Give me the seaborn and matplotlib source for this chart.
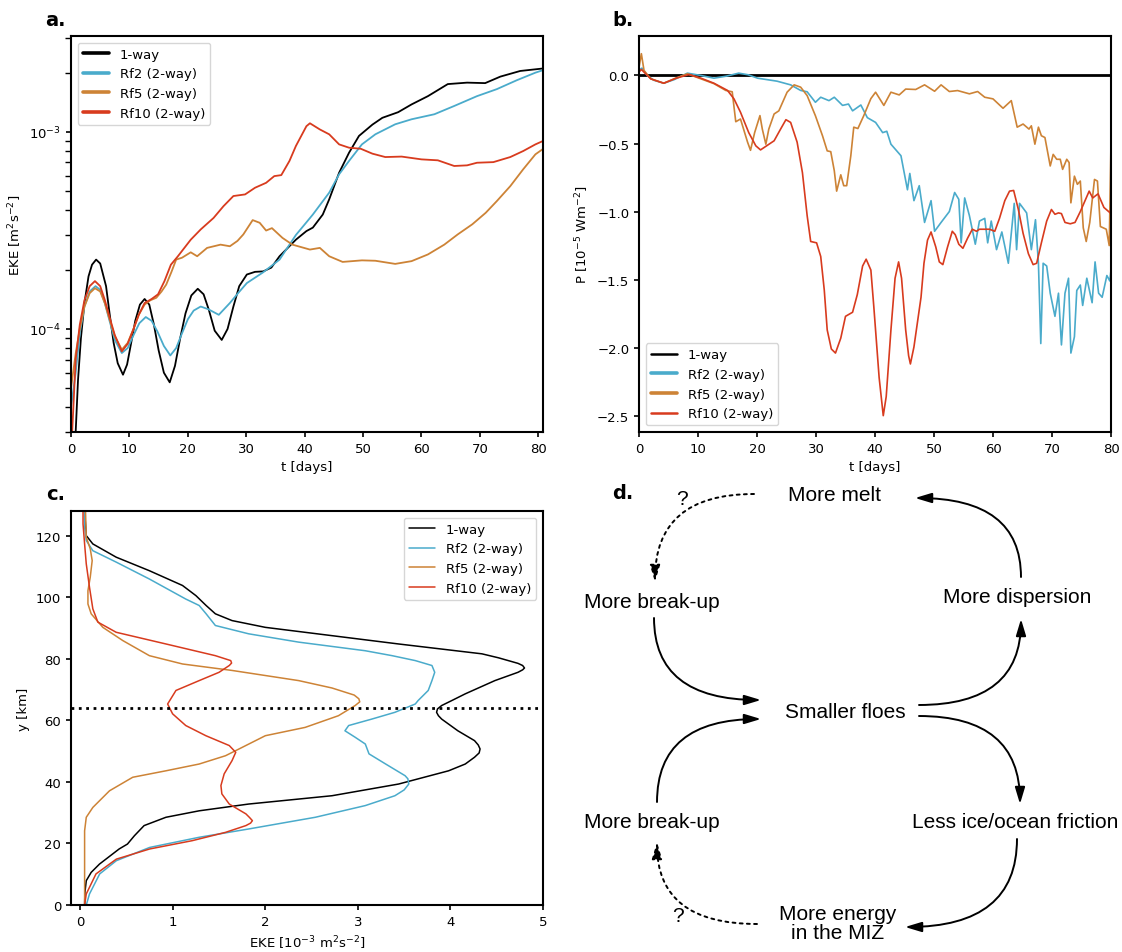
import matplotlib
matplotlib.use("Agg")
import matplotlib.pyplot as plt
import seaborn as sns

# run names and colours
labels = ["1-way", "Rf2 (2-way)", "Rf5 (2-way)", "Rf10 (2-way)"]
colors = ["black", "#4aabcb", "#cd8336", "#d83b1e"]

# ---- a. domain EKE against time, in 1e-4 m2 s-2
t_a_1way = [0.5, 0.8, 1.2, 1.7, 2.3, 3.0, 3.6, 4.3, 5.0, 6.0, 6.6, 7.3, 8.0, 8.9, 9.6, 10.3, 11.0,
            11.8, 12.6, 13.4, 14.2, 15.0, 15.9, 16.9, 17.8, 18.7, 19.6, 20.6, 21.7, 22.7, 23.6,
            24.6, 25.8, 26.8, 27.8, 28.8, 30.1, 31.5, 32.9, 34.3, 35.7, 38.5, 40.3, 41.4, 43.1,
            44.2, 45.9, 47.6, 49.3, 51.6, 53.3, 56.0, 58.3, 61.1, 64.5, 67.8, 70.9, 73.5, 76.9,
            79.5, 80.8]
eke_a_1way = [0.1, 0.3, 0.55, 0.9, 1.35, 1.85, 2.12, 2.25, 2.15, 1.65, 1.2, 0.85, 0.67, 0.586,
              0.66, 0.85, 1.1, 1.33, 1.42, 1.33, 1.05, 0.78, 0.6, 0.536, 0.65, 0.9, 1.2, 1.48,
              1.6, 1.5, 1.25, 0.98, 0.88, 1.0, 1.3, 1.65, 1.89, 1.95, 1.96, 2.05, 2.34, 2.84,
              3.14, 3.27, 3.81, 4.55, 6.21, 7.85, 9.55, 10.9, 11.8, 12.6, 13.8, 15.2, 17.5,
              17.8, 17.7, 19.1, 20.4, 20.8, 21.0]
t_a_rf2 = [0.0, 0.8, 1.5, 2.3, 3.2, 4.2, 5.0, 5.8, 6.6, 7.5, 8.7, 9.7, 10.7, 11.7, 12.8, 13.8,
           14.8, 15.9, 17.0, 18.0, 19.0, 20.0, 21.0, 22.2, 23.5, 25.3, 27.2, 28.6, 30.1, 32.9,
           35.7, 38.5, 40.2, 41.4, 44.2, 45.9, 47.6, 49.8, 52.1, 55.5, 58.3, 62.2, 65.6, 69.5,
           72.9, 76.3, 79.5, 80.8]
eke_a_rf2 = [0.4, 0.6, 0.95, 1.3, 1.55, 1.65, 1.58, 1.35, 1.1, 0.88, 0.755, 0.8, 0.93, 1.07,
             1.15, 1.1, 0.97, 0.82, 0.734, 0.8, 0.95, 1.12, 1.24, 1.30, 1.26, 1.18, 1.355, 1.52,
             1.71, 1.94, 2.25, 3.0, 3.45, 3.81, 4.92, 6.1, 7.13, 8.65, 9.73, 10.94, 11.6, 12.3,
             13.55, 15.2, 16.5, 18.3, 20.0, 20.6]
t_a_rf5 = [0.0, 0.8, 1.5, 2.3, 3.2, 4.1, 5.0, 5.8, 6.6, 7.5, 8.7, 9.7, 10.7, 11.6, 12.6, 13.6,
           14.6, 15.5, 16.3, 17.2, 18.0, 19.0, 20.5, 21.6, 23.3, 25.6, 27.2, 28.5, 29.5, 31.1,
           32.3, 33.4, 34.4, 36.2, 37.9, 40.9, 42.6, 44.2, 46.5, 49.8, 52.1, 55.5, 58.3, 61.1,
           63.9, 66.2, 68.7, 71.0, 72.9, 75.2, 77.4, 79.5, 80.8]
eke_a_rf5 = [0.5, 0.75, 1.0, 1.3, 1.52, 1.61, 1.55, 1.35, 1.12, 0.92, 0.785, 0.85, 1.0, 1.18,
             1.33, 1.4, 1.44, 1.55, 1.68, 1.95, 2.25, 2.3, 2.45, 2.34, 2.58, 2.68, 2.63, 2.8,
             3.02, 3.57, 3.46, 3.16, 3.25, 2.9, 2.68, 2.53, 2.58, 2.34, 2.19, 2.23, 2.22, 2.14,
             2.21, 2.39, 2.68, 3.02, 3.4, 3.89, 4.46, 5.31, 6.46, 7.7, 8.2]
t_a_rf10 = [0.2, 0.8, 1.5, 2.3, 3.2, 4.1, 5.0, 5.8, 6.6, 7.5, 8.7, 9.7, 10.7, 11.6, 12.6, 13.8,
            14.9, 16.0, 17.1, 18.3, 20.5, 22.2, 24.4, 26.1, 27.8, 29.8, 31.5, 33.4, 34.8, 36.0,
            37.4, 38.5, 40.3, 40.9, 42.6, 44.2, 45.9, 47.6, 49.6, 51.6, 53.8, 56.6, 60.0, 62.8,
            65.6, 67.8, 69.5, 72.3, 75.2, 77.4, 79.5, 80.8]
eke_a_rf10 = [0.3, 0.7, 1.05, 1.4, 1.65, 1.75, 1.65, 1.4, 1.15, 0.93, 0.77, 0.84, 1.0, 1.18,
              1.355, 1.42, 1.5, 1.75, 2.12, 2.34, 2.84, 3.2, 3.66, 4.2, 4.73, 4.82, 5.21, 5.52,
              5.97, 6.04, 7.13, 8.49, 10.7, 11.07, 10.3, 9.73, 8.65, 8.32, 8.22, 7.76, 7.46,
              7.5, 7.26, 7.18, 6.72, 6.77, 6.98, 7.03, 7.46, 8.0, 8.65, 9.0]

# ---- b. power P against time, in 1e-5 W m-2
t_b_1way = [0.0, 80.0]
p_1way = [0.0, 0.0]
t_b_rf2 = [0.0, 0.5, 1.4, 2.5, 4.2, 6.0, 8.2, 10.5, 12.7, 14.8, 16.9, 18.5, 20.1, 23.4, 25.7,
           27.4, 28.5, 29.9, 30.8, 32.2, 33.1, 34.5, 35.5, 36.2, 37.6, 38.7, 40.1, 41.3, 42.0,
           42.7, 44.4, 45.5, 45.9, 46.6, 47.5, 48.4, 49.5, 50.1, 51.2, 52.6, 53.5, 54.2, 54.6,
           55.2, 56.0, 57.0, 57.7, 58.6, 59.1, 59.7, 60.6, 61.5, 62.6, 63.6, 64.0, 64.5, 65.7,
           66.5, 67.2, 67.7, 68.1, 68.5, 69.1, 69.7, 70.5, 71.1, 71.6, 72.2, 72.8, 73.2, 73.8,
           74.2, 74.8, 75.2, 75.9, 76.8, 77.3, 77.9, 78.5, 79.3, 79.8, 80.0]
p_rf2 = [0.04, 0.054, 0.0, -0.035, -0.057, -0.03, 0.017, 0.0, -0.02, -0.005, 0.017, 0.005,
         -0.02, -0.042, -0.069, -0.11, -0.12, -0.197, -0.16, -0.185, -0.16, -0.22, -0.21, -0.26,
         -0.217, -0.31, -0.345, -0.42, -0.41, -0.505, -0.59, -0.84, -0.72, -0.92, -0.81, -1.08,
         -0.92, -1.145, -1.08, -1.0, -0.86, -0.91, -1.23, -0.90, -1.03, -1.24, -1.07, -1.05,
         -1.23, -1.07, -1.28, -1.15, -1.38, -0.94, -1.28, -0.94, -1.01, -1.28, -1.06, -1.38,
         -1.97, -1.38, -1.40, -1.60, -1.77, -1.60, -1.98, -1.6, -1.49, -2.04, -1.92, -1.58,
         -1.54, -1.69, -1.49, -1.67, -1.37, -1.60, -1.63, -1.47, -1.51, -1.43]
t_b_rf5 = [0.0, 0.4, 0.85, 2.0, 4.2, 6.2, 8.2, 10.5, 12.7, 14.7, 15.8, 16.4, 17.2, 18.4, 18.9,
           19.6, 20.5, 20.9, 21.5, 22.0, 22.9, 23.7, 25.1, 26.3, 27.4, 28.5, 29.9, 31.1, 31.9,
           32.5, 33.1, 33.5, 34.2, 34.7, 35.2, 35.9, 36.4, 37.1, 38.1, 39.3, 40.1, 41.5, 42.7,
           44.1, 45.2, 46.9, 48.4, 50.1, 51.2, 52.6, 54.0, 56.0, 57.4, 58.6, 60.0, 61.7, 63.1,
           64.1, 65.1, 66.1, 66.5, 67.1, 67.7, 68.2, 68.8, 69.7, 70.2, 70.8, 71.4, 71.8, 72.5,
           72.9, 73.2, 73.8, 74.3, 74.8, 75.3, 75.8, 76.4, 77.2, 77.7, 78.2, 79.2, 79.7, 80.0]
p_rf5 = [0.06, 0.16, 0.037, -0.025, -0.057, -0.02, 0.012, -0.025, -0.06, -0.11, -0.12, -0.34,
         -0.32, -0.49, -0.55, -0.42, -0.295, -0.394, -0.505, -0.394, -0.283, -0.26, -0.123,
         -0.069, -0.086, -0.148, -0.296, -0.443, -0.554, -0.56, -0.70, -0.85, -0.73, -0.81,
         -0.81, -0.59, -0.38, -0.39, -0.295, -0.17, -0.123, -0.22, -0.123, -0.143, -0.10,
         -0.103, -0.069, -0.116, -0.069, -0.118, -0.111, -0.135, -0.118, -0.16, -0.172, -0.241,
         -0.185, -0.38, -0.357, -0.394, -0.37, -0.505, -0.38, -0.443, -0.456, -0.665, -0.58,
         -0.616, -0.616, -0.69, -0.616, -0.64, -0.936, -0.74, -0.80, -0.776, -1.12, -1.22,
         -1.08, -0.764, -0.776, -1.11, -1.13, -1.25, -0.49]
t_b_rf10 = [0.0, 0.4, 2.0, 4.2, 6.3, 8.5, 10.5, 12.7, 15.0, 16.1, 17.2, 18.6, 19.8, 20.6, 21.8,
            22.9, 24.0, 24.9, 25.7, 26.8, 27.7, 28.5, 29.1, 30.1, 30.8, 31.4, 31.9, 32.6, 33.3,
            34.2, 35.0, 36.2, 37.0, 37.9, 38.5, 39.3, 39.8, 40.7, 41.4, 41.9, 42.7, 43.4, 44.0,
            44.5, 45.2, 45.7, 46.0, 46.6, 47.8, 48.3, 48.9, 49.5, 50.3, 50.9, 51.5, 52.3, 53.1,
            53.6, 54.2, 54.9, 55.7, 56.5, 57.2, 57.7, 58.6, 59.4, 60.3, 61.1, 62.0, 62.8, 63.5,
            64.3, 65.1, 66.0, 66.8, 67.4, 68.2, 69.1, 69.9, 70.5, 71.1, 71.6, 72.2, 73.1, 73.9,
            74.8, 75.6, 76.3, 76.9, 77.8, 78.8, 80.0]
p_rf10 = [0.025, 0.044, -0.025, -0.057, -0.02, 0.007, -0.02, -0.057, -0.11, -0.172, -0.27,
          -0.42, -0.517, -0.547, -0.512, -0.48, -0.394, -0.325, -0.345, -0.49, -0.714, -1.03,
          -1.22, -1.23, -1.33, -1.576, -1.87, -2.01, -2.04, -1.93, -1.77, -1.74, -1.61, -1.40,
          -1.35, -1.43, -1.70, -2.22, -2.50, -2.36, -1.87, -1.49, -1.37, -1.49, -1.87, -2.06,
          -2.12, -1.995, -1.63, -1.38, -1.21, -1.15, -1.26, -1.37, -1.39, -1.26, -1.145, -1.17,
          -1.24, -1.27, -1.195, -1.13, -1.145, -1.13, -1.13, -1.13, -1.145, -1.05, -0.92, -0.85,
          -0.845, -0.985, -1.16, -1.31, -1.39, -1.38, -1.23, -1.07, -0.985, -1.02, -1.01, -1.015,
          -1.08, -1.09, -1.08, -1.0, -0.92, -0.85, -0.90, -0.87, -0.97, -1.015]

# ---- c. time-mean EKE profiles across the channel, in 1e-3 m2 s-2
y_c_1way = [0, 4, 7.9, 10.6, 13.3, 18.2, 19.8, 22.5, 25.8, 28.5, 30.6, 32.8, 35.5, 39.3, 43.6,
            45.8, 48.0, 49.4, 50.7, 52.0, 53.4, 56.6, 60.4, 61.5, 62.6, 63.7, 64.8, 66.5, 68.6,
            72.9, 75.6, 76.4, 77.0, 77.8, 78.5, 80.3, 81.6, 84.8, 87.5, 90.2, 92.4, 94.6, 97.3,
            100.5, 103.8, 108.6, 113.0, 117.3, 120, 128]
eke_c_1way = [0.047, 0.05, 0.065, 0.118, 0.208, 0.42, 0.51, 0.585, 0.69, 0.926, 1.285, 1.82,
              2.72, 3.44, 3.98, 4.16, 4.26, 4.31, 4.32, 4.3, 4.26, 4.08, 3.905, 3.87, 3.85,
              3.86, 3.905, 4.02, 4.16, 4.48, 4.73, 4.78, 4.80, 4.78, 4.73, 4.52, 4.34, 3.44,
              2.72, 2.0, 1.64, 1.46, 1.36, 1.25, 1.105, 0.747, 0.388, 0.136, 0.065, 0.047]
y_c_rf2 = [0, 3.6, 10.1, 14.4, 18.7, 22.0, 24.7, 28.5, 32.3, 35.5, 37.4, 39.3, 41.0, 42.0, 45.8,
           49.1, 52.3, 54.5, 56.6, 58.3, 60.4, 62.6, 65.3, 66.4, 69.7, 72.9, 75.6, 77.8, 79.4,
           81.0, 82.6, 85.4, 88.1, 90.8, 94.6, 97.3, 99.4, 105.9, 111.4, 115.1, 118.4, 122.7,
           128]
eke_c_rf2 = [0.065, 0.10, 0.21, 0.39, 0.75, 1.285, 1.82, 2.54, 3.08, 3.40, 3.50, 3.55, 3.54,
             3.51, 3.30, 3.12, 3.08, 2.97, 2.86, 2.90, 3.15, 3.40, 3.62, 3.65, 3.76, 3.80, 3.83,
             3.80, 3.62, 3.37, 3.08, 2.36, 1.82, 1.46, 1.36, 1.285, 1.14, 0.747, 0.388, 0.136,
             0.065, 0.047, 0.047]
y_c_rf5 = [0, 24.1, 28.5, 31.7, 37.1, 41.5, 43.6, 45.8, 48.5, 50.7, 55.0, 57.7, 61.5, 64.8,
           66.0, 67.0, 68.2, 70.5, 72.9, 76.2, 78.3, 81.0, 85.9, 90.2, 94.6, 97.8, 102.1, 106.5,
           111.9, 115.7, 119.5, 128]
eke_c_rf5 = [0.047, 0.047, 0.065, 0.136, 0.316, 0.567, 0.926, 1.285, 1.57, 1.716, 2.0, 2.43,
             2.79, 2.97, 3.02, 3.01, 2.96, 2.72, 2.36, 1.64, 1.105, 0.747, 0.46, 0.244, 0.118,
             0.083, 0.083, 0.108, 0.129, 0.108, 0.065, 0.057]
y_c_rf10 = [0, 3.6, 10.1, 14.9, 18.2, 20.9, 23.6, 25.8, 26.6, 27.4, 28.4, 29.6, 32.8, 36.1,
            38.8, 42.6, 46.9, 49.6, 51.8, 55.0, 58.3, 62.1, 65.3, 69.7, 72.9, 75.6, 77.8, 78.6,
            79.4, 81.0, 84.8, 88.6, 91.9, 96.2, 103.2, 110.8, 117.3, 123.8, 128]
eke_c_rf10 = [0.047, 0.065, 0.17, 0.39, 0.75, 1.21, 1.57, 1.79, 1.84, 1.86, 1.83, 1.79, 1.61,
              1.53, 1.52, 1.555, 1.64, 1.68, 1.61, 1.357, 1.14, 0.998, 0.944, 1.034, 1.285,
              1.50, 1.61, 1.635, 1.626, 1.46, 0.926, 0.388, 0.19, 0.136, 0.10, 0.065, 0.047,
              0.03, 0.03]
miz_edge = 64

# ---- d. feedback diagram
d_nodes = ["More melt", "More break-up", "More dispersion", "Smaller floes", "More break-up",
           "Less ice/ocean friction", "More energy\nin the MIZ"]

sns.set_theme(style="ticks", rc={
    "axes.edgecolor": "black", "axes.linewidth": 1.5, "text.color": "black",
    "axes.labelcolor": "black", "xtick.color": "black", "ytick.color": "black",
    "xtick.major.width": 1.2, "ytick.major.width": 1.2, "xtick.major.size": 3.5,
    "ytick.major.size": 3.5, "font.size": 9.5, "axes.labelsize": 9.5,
    "xtick.labelsize": 9.5, "ytick.labelsize": 9.5, "legend.fontsize": 9.5,
})
plt.rcParams["font.family"] = ["DejaVu Sans"]

W, H = 1122, 953
fig = plt.figure(figsize=(W / 100, H / 100), dpi=100)

def box(x0, y0, x1, y1):
    return [x0 / W, 1 - y1 / H, (x1 - x0) / W, (y1 - y0) / H]

# a.
ax = fig.add_axes(box(71, 37, 543, 433))
series_a = [(t_a_1way, eke_a_1way), (t_a_rf2, eke_a_rf2), (t_a_rf5, eke_a_rf5), (t_a_rf10, eke_a_rf10)]
for (t, e), lab, c in zip(series_a, labels, colors):
    sns.lineplot(x=t, y=[v * 1e-4 for v in e], ax=ax, color=c, lw=1.3, label=lab,
                 sort=False, estimator=None)
ax.set_yscale("log")
ax.set_ylim(3e-5, 3.07e-3)
ax.set_xlim(0, 80.8)
ax.set_xticks(range(0, 81, 10))
ax.set_xlabel("t [days]")
ax.set_ylabel("EKE [m$^2$s$^{-2}$]")
leg = ax.legend(loc="upper left")
for ln in leg.get_lines():
    ln.set_linewidth(2.6)

# b.
ax = fig.add_axes(box(639, 37, 1111, 433))
sns.lineplot(x=t_b_1way, y=p_1way, ax=ax, color=colors[0], lw=2.0, label=labels[0],
             sort=False, estimator=None)
series_b = [(t_b_rf2, p_rf2), (t_b_rf5, p_rf5), (t_b_rf10, p_rf10)]
for (t, p), lab, c in zip(series_b, labels[1:], colors[1:]):
    sns.lineplot(x=t, y=p, ax=ax, color=c, lw=1.2, label=lab, sort=False, estimator=None)
ax.set_xlim(0, 80)
ax.set_ylim(-2.62, 0.29)
ax.set_xticks(range(0, 81, 10))
ax.set_yticks([0.0, -0.5, -1.0, -1.5, -2.0, -2.5])
ax.set_xlabel("t [days]")
ax.set_ylabel("P [10$^{-5}$ Wm$^{-2}$]")
leg = ax.legend(loc="lower left")
for ln, w in zip(leg.get_lines(), [1.8, 2.6, 2.6, 1.8]):
    ln.set_linewidth(w)

# c.
ax = fig.add_axes(box(71, 512, 543, 906))
series_c = [(eke_c_1way, y_c_1way), (eke_c_rf2, y_c_rf2), (eke_c_rf5, y_c_rf5), (eke_c_rf10, y_c_rf10)]
for (e, y), lab, c in zip(series_c, labels, colors):
    sns.lineplot(x=e, y=y, ax=ax, color=c, lw=1.1, label=lab, sort=False, estimator=None)
ax.axhline(miz_edge, color="black", ls=":", lw=2)
ax.set_xlim(-0.1, 5)
ax.set_ylim(0, 128)
ax.set_yticks(range(0, 121, 20))
ax.set_xlabel("EKE [10$^{-3}$ m$^2$s$^{-2}$]")
ax.set_ylabel("y [km]")
ax.legend(loc="upper right")

# d. diagram drawn in pixel coordinates of the figure
ax = fig.add_axes(box(560, 480, W, H))
ax.set_xlim(560, W)
ax.set_ylim(H, 480)
ax.axis("off")
dfont = dict(family=["Liberation Sans", "DejaVu Sans"], fontsize=15, va="center")
node_xy = [(835, 496), (652, 603), (1017, 598), (845, 713), (652, 823), (1118, 823), (838, 924)]
for (x, y), txt in zip(node_xy, d_nodes):
    ha = "right" if txt.startswith("Less") else "center"
    ax.text(x, y, txt, ha=ha, linespacing=1.0, **dfont)
ax.text(682, 500, "?", ha="center", **dfont)
ax.text(678, 917, "?", ha="center", **dfont)

arrows = [
    ((754, 495), (655, 583), 0, 90, True),
    ((1021, 578), (915, 499), 90, 0, False),
    ((654, 619), (761, 701), 90, 0, False),
    ((657, 803), (761, 720), 90, 0, False),
    ((919, 706), (1021, 620), 0, 90, False),
    ((919, 717), (1020, 805), 0, 90, False),
    ((1017, 840), (905, 928), 90, 0, False),
    ((757, 925), (657, 843), 0, 90, True),
]
for start, end, a_ang, b_ang, dashed in arrows:
    ax.annotate("", xy=end, xytext=start, xycoords="data",
                arrowprops=dict(arrowstyle="-|>,head_length=0.5,head_width=0.15",
                                connectionstyle=f"angle3,angleA={a_ang},angleB={b_ang}",
                                color="black", lw=1.4, mutation_scale=20,
                                shrinkA=0, shrinkB=0,
                                linestyle=(0, (1.5, 2.2)) if dashed else "-"))

# panel letters
for lab, (x, y) in zip(["a.", "b.", "c.", "d."], [(45, 20), (612, 20), (46, 495), (612, 494)]):
    fig.text(x / W, 1 - y / H, lab, ha="left", va="center", fontsize=14, fontweight="bold")

fig.savefig("out.png", dpi=100)
